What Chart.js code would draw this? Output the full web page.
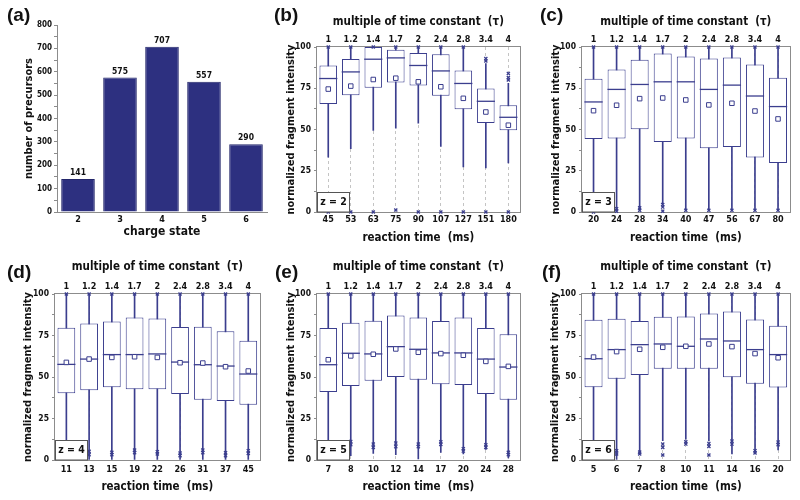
<!DOCTYPE html>
<html>
<head>
<meta charset="utf-8">
<script src="https://cdn.jsdelivr.net/npm/chart.js@4.4.1/dist/chart.umd.min.js"></script>
<style>
  html, body { margin: 0; padding: 0; background: #fff; }
  #fig { position: relative; width: 800px; height: 500px; overflow: hidden; background: #fff; }
  #fig canvas { position: absolute; }
  .tag { position: absolute; font: bold 19px 'Liberation Sans', Arial, sans-serif; color: #111; line-height: 22px; }
</style>
</head>
<body>
<div id="fig">
  <canvas id="cA" width="270" height="242" style="left:0px;top:0px"></canvas>
  <canvas id="cB" width="268" height="250" style="left:262px;top:0px"></canvas>
  <canvas id="cC" width="270" height="250" style="left:530px;top:0px"></canvas>
  <canvas id="cD" width="270" height="255" style="left:0px;top:245px"></canvas>
  <canvas id="cE" width="268" height="255" style="left:262px;top:245px"></canvas>
  <canvas id="cF" width="270" height="255" style="left:530px;top:245px"></canvas>
  <div class="tag" style="left:7px;top:4px">(a)</div>
  <div class="tag" style="left:274px;top:4px">(b)</div>
  <div class="tag" style="left:540px;top:4px">(c)</div>
  <div class="tag" style="left:7px;top:261px">(d)</div>
  <div class="tag" style="left:275px;top:261px">(e)</div>
  <div class="tag" style="left:542px;top:261px">(f)</div>
</div>
<script>
// panel (a): precursors per charge state
const CHARGE = ["2", "3", "4", "5", "6"];
const PRECURSORS = [141, 575, 707, 557, 290];

// top axis shared by the box panels
const TAU = ["1", "1.2", "1.4", "1.7", "2", "2.4", "2.8", "3.4", "4"];

// panel (b), z = 2
const B_TIME = ["45", "53", "63", "75", "90", "107", "127", "151", "180"];
const B_LO = [33.3, 38.4, 49.4, 50.8, 53.8, 39.8, 27.3, 26.7, 29.7];
const B_Q1 = [65.5, 70.7, 75.3, 78.5, 76.7, 70.5, 62.2, 54.0, 49.6];
const B_MED = [80.9, 84.9, 92.6, 93.4, 88.8, 85.5, 77.9, 67.1, 57.4];
const B_Q3 = [88.8, 92.8, 100, 98.4, 96.4, 95.6, 85.7, 74.9, 64.7];
const B_HI = [100, 100, 100, 100, 100, 100, 100, 90, 78];
const B_MEAN = [74.5, 76.3, 80.3, 81.1, 78.9, 75.9, 68.9, 60.6, 52.6];
const B_OUT = [[0, 100], [0, 100], [0, 100], [1.2, 100], [0, 100], [0, 100], [0, 100], [0, 91.5, 93], [0, 80, 81.5, 84]];

// panel (c), z = 3
const C_TIME = ["20", "24", "28", "34", "40", "47", "56", "67", "80"];
const C_LO = [0, 1, 1, 5, 1, 1, 1, 1, 1];
const C_Q1 = [44.2, 44.6, 50.2, 42.4, 44.6, 38.6, 39.4, 33.1, 29.7];
const C_MED = [66.7, 74.3, 77.3, 78.9, 78.9, 74.3, 76.9, 70.3, 63.9];
const C_Q3 = [80.7, 86.3, 92.2, 96.0, 94.2, 93.0, 93.6, 89.4, 81.3];
const C_HI = [100, 100, 100, 100, 100, 100, 100, 100, 100];
const C_MEAN = [61.4, 64.7, 68.7, 69.1, 67.9, 64.9, 65.9, 61.2, 56.4];
const C_OUT = [[100, 0], [100, 2, 0.5], [100, 2.5, 1], [100, 4.5, 3, 0.5], [100, 1], [100, 1], [100, 1], [100, 1], [100, 1]];

// panel (d), z = 4
const D_TIME = ["11", "13", "15", "19", "22", "26", "31", "37", "45"];
const D_LO = [0, 0, 0, 0, 0, 0, 0, 0, 0];
const D_Q1 = [40.2, 42.0, 43.8, 42.6, 42.6, 39.8, 36.3, 35.5, 33.3];
const D_MED = [57.6, 60.8, 63.5, 63.5, 63.9, 59.0, 57.4, 56.6, 51.8];
const D_Q3 = [79.7, 82.3, 83.5, 85.9, 85.3, 80.1, 80.3, 77.5, 71.9];
const D_HI = [100, 100, 100, 100, 100, 100, 100, 100, 100];
const D_MEAN = [58.8, 60.8, 61.8, 62.2, 61.8, 58.6, 58.4, 56.2, 53.6];
const D_OUT = [[100], [100, 5.2, 3.2], [100, 4.6, 3.2], [100, 6, 4.4], [100, 5, 3.6], [100, 4.2, 2.6], [100, 6, 4.4], [100, 4.4, 2.6], [100, 5.6, 4]];

// panel (e), z = 5
const E_TIME = ["7", "8", "10", "12", "14", "17", "20", "24", "28"];
const E_LO = [0, 2.6, 4, 3.2, 0.6, 4.6, 3.6, 6.4, 1.2];
const E_Q1 = [41.0, 44.6, 47.8, 50.0, 48.4, 45.6, 45.2, 39.8, 36.3];
const E_MED = [57.4, 64.3, 63.9, 68.3, 66.7, 64.5, 64.5, 60.8, 56.0];
const E_Q3 = [79.5, 82.7, 83.9, 87.1, 85.9, 83.7, 85.9, 79.5, 75.7];
const E_HI = [100, 100, 100, 100, 100, 100, 100, 100, 100];
const E_MEAN = [60.4, 62.7, 63.7, 66.9, 64.9, 64.1, 63.1, 59.4, 56.4];
const E_OUT = [[100], [100, 11.2, 9.2], [100, 9.6, 7.6], [100, 10.2, 8], [100, 9.6, 8], [100, 11, 9.4], [100, 6.8, 5.4], [100, 9.2, 7.6], [100, 4.6, 3.2]];

// panel (f), z = 6
const F_TIME = ["5", "6", "7", "8", "10", "11", "14", "16", "20"];
const F_LO = [0, 0, 3.6, 11.6, 12.6, 11.5, 3.6, 4.2, 6];
const F_Q1 = [43.8, 49.0, 51.2, 55.0, 55.0, 55.0, 49.8, 46.0, 43.6];
const F_MED = [61.0, 66.5, 69.5, 69.9, 68.5, 72.9, 71.7, 66.5, 63.5];
const F_Q3 = [84.5, 85.1, 83.7, 86.3, 86.5, 88.2, 89.4, 84.7, 80.9];
const F_HI = [100, 100, 100, 100, 100, 100, 100, 100, 100];
const F_MEAN = [62.0, 65.3, 66.7, 67.9, 68.5, 69.9, 68.3, 64.1, 61.6];
const F_OUT = [[100], [100, 5.6, 3.6], [100, 4.8, 3.6], [100, 9.6, 7.6, 3], [100, 11, 9.6], [100, 10, 8.2, 3], [100, 11.4, 9.6], [100, 5.6, 4.2], [100, 10.8, 9.2]];

const FONT = "'Liberation Sans Narrow', 'DejaVu Sans Condensed', 'Arial Narrow', sans-serif";
const NAVY = "#3b3e8e";
const BAR = "#2d3080";
const FRAME = "#8c8c8c";

Chart.defaults.font.family = FONT;
Chart.defaults.font.weight = "bold";
Chart.defaults.color = "#111";

const common = {
  responsive: false,
  animation: false,
  devicePixelRatio: 1,
  events: [],
};

// ---- (a) bar chart ----
(function () {
  const g = { left: 0, top: 0, w: 270, h: 242, L: 57, T: 25, R: 267, B: 212 };
  const barValues = {
    id: "barValues",
    afterDatasetsDraw(chart) {
      const ctx = chart.ctx;
      ctx.save();
      ctx.font = `bold 8.5px ${FONT}`;
      ctx.fillStyle = "#111";
      ctx.textAlign = "center";
      ctx.textBaseline = "bottom";
      chart.getDatasetMeta(0).data.forEach((bar, i) => ctx.fillText(PRECURSORS[i], bar.x, bar.y - 2));
      ctx.restore();
    },
  };
  new Chart(document.getElementById("cA"), {
    type: "bar",
    data: {
      labels: CHARGE,
      datasets: [{ data: PRECURSORS, backgroundColor: BAR, borderColor: "#23266a", borderWidth: 1, barPercentage: 0.8, categoryPercentage: 1 }],
    },
    options: {
      ...common,
      layout: { padding: { left: 0, top: g.T - g.top, right: g.left + g.w - g.R, bottom: 0 } },
      plugins: { legend: { display: false }, tooltip: { enabled: false } },
      scales: {
        x: {
          afterFit: (s) => { s.height = g.top + g.h - g.B; },
          grid: { display: false, drawTicks: false },
          border: { display: true, color: FRAME },
          ticks: { padding: 2, font: { size: 9, weight: "bold" } },
          title: { display: true, text: "charge state", font: { size: 12, weight: "bold" }, padding: { top: 0, bottom: 3 } },
        },
        y: {
          min: 0, max: 800,
          afterFit: (s) => { s.width = g.L - g.left; },
          ticks: { stepSize: 50, autoSkip: false, padding: 2, font: { size: 8, weight: "bold" }, callback: (v) => (v % 100 === 0 ? v : "") },
          grid: { display: true, drawOnChartArea: false, tickLength: 3, color: FRAME },
          border: { display: true, color: FRAME },
          title: { display: true, text: "number of precursors", font: { size: 11, weight: "bold" }, padding: { top: 23, bottom: 0 } },
        },
      },
    },
    plugins: [barValues],
  });
})();

// ---- box panels ----
function boxChart(id, g, d) {
  const catW = (g.R - g.L) / d.time.length;
  const outPts = [];
  d.out.forEach((vals, i) => vals.forEach((v) => outPts.push({ x: d.time[i], y: v })));

  const decor = {
    id: "decor",
    beforeDatasetsDraw(chart) {
      const a = chart.chartArea, ctx = chart.ctx;
      ctx.save();
      ctx.strokeStyle = FRAME;
      ctx.lineWidth = 1;
      ctx.strokeRect(Math.round(a.left) - 0.5, Math.round(a.top) - 0.5, Math.round(a.right - a.left) + 1, Math.round(a.bottom - a.top) + 1);
      ctx.restore();
    },
    afterDatasetsDraw(chart) {
      const a = chart.chartArea, ctx = chart.ctx;
      const x0 = Math.round(a.left), y1 = Math.round(a.bottom);
      ctx.save();
      ctx.fillStyle = "#fff";
      ctx.fillRect(x0, y1 - 20, 33, 20);
      ctx.strokeStyle = "#555";
      ctx.lineWidth = 1;
      ctx.strokeRect(x0 + 0.5, y1 - 19.5, 32, 19.5);
      ctx.font = `bold 10.5px ${FONT}`;
      ctx.fillStyle = "#111";
      ctx.textAlign = "center";
      ctx.textBaseline = "middle";
      ctx.fillText(d.z, x0 + 16.5, y1 - 9.5);
      ctx.restore();
    },
  };

  return new Chart(document.getElementById(id), {
    type: "bar",
    data: {
      labels: d.time,
      datasets: [
        { type: "line", xAxisID: "x", data: outPts, showLine: false, pointStyle: "crossRot", pointRadius: 2.2, pointBorderWidth: 1.3, borderColor: NAVY, backgroundColor: NAVY, clip: false, order: 0 },
        { type: "line", xAxisID: "x", data: d.mean, showLine: false, pointStyle: "rect", pointRadius: 3.2, pointBorderWidth: 1, borderColor: NAVY, pointBorderColor: NAVY, pointBackgroundColor: "#fff", clip: false, order: 1 },
        { type: "line", xAxisID: "x", data: d.med, showLine: false, pointStyle: "line", pointRadius: (catW * 0.78) / 2, pointBorderWidth: 1.3, borderColor: NAVY, pointBorderColor: NAVY, clip: false, order: 2 },
        { xAxisID: "x", data: d.q1.map((v, i) => [v, d.q3[i]]), backgroundColor: "#fff", borderColor: NAVY, borderWidth: 1, borderSkipped: false, barPercentage: 0.78, categoryPercentage: 1, grouped: false, order: 3 },
        { xAxisID: "x", data: d.lo.map((v, i) => [v, d.hi[i]]), backgroundColor: NAVY, borderWidth: 0, barThickness: 1, grouped: false, order: 4 },
      ],
    },
    options: {
      ...common,
      layout: { padding: { left: 0, top: 0, right: g.left + g.w - g.R, bottom: 0 } },
      plugins: { legend: { display: false }, tooltip: { enabled: false } },
      scales: {
        x: {
          afterFit: (s) => { s.height = g.top + g.h - g.B; },
          offset: true,
          grid: { display: true, drawOnChartArea: true, drawTicks: false, offset: false, color: "#c4c4c4" },
          border: { display: false, dash: [3, 3] },
          ticks: { padding: g.tickPad, autoSkip: false, maxRotation: 0, font: { size: 9, weight: "bold" } },
          title: { display: true, text: "reaction time  (ms)", font: { size: 11.5, weight: "bold" }, padding: { top: 0, bottom: g.h - (g.xTitle - g.top) - 6.9 } },
        },
        x2: {
          axis: "x",
          type: "category",
          labels: TAU,
          position: "top",
          offset: true,
          afterFit: (s) => { s.height = g.T - g.top; },
          grid: { display: false, drawTicks: false },
          border: { display: false },
          ticks: { padding: 2, autoSkip: false, maxRotation: 0, font: { size: 9, weight: "bold" } },
          title: { display: true, text: "multiple of time constant  (τ)", font: { size: 11.5, weight: "bold" }, padding: { top: g.topTitle - g.top - 6.9, bottom: 0 } },
        },
        y: {
          min: 0, max: 100,
          afterFit: (s) => { s.width = g.L - g.left; },
          ticks: { stepSize: 12.5, autoSkip: false, padding: 3, font: { size: 8.5, weight: "bold" }, callback: (v) => (v % 25 === 0 ? v : "") },
          grid: { display: true, drawOnChartArea: false, tickLength: 3, color: FRAME },
          border: { display: false },
          title: { display: true, text: "normalized fragment intensity", font: { size: 11, weight: "bold" }, padding: { top: g.yTitle - g.left - 6.6, bottom: 0 } },
        },
      },
    },
    plugins: [decor],
  });
}

boxChart("cB", { left: 262, top: 0, w: 268, h: 250, L: 317, T: 47, R: 527, B: 212, yTitle: 291, xTitle: 238, topTitle: 22, tickPad: 2 },
  { time: B_TIME, lo: B_LO, q1: B_Q1, med: B_MED, q3: B_Q3, hi: B_HI, mean: B_MEAN, out: B_OUT, z: "z = 2" });
boxChart("cC", { left: 530, top: 0, w: 270, h: 250, L: 582, T: 47, R: 793, B: 212, yTitle: 556, xTitle: 238, topTitle: 22, tickPad: 2 },
  { time: C_TIME, lo: C_LO, q1: C_Q1, med: C_MED, q3: C_Q3, hi: C_HI, mean: C_MEAN, out: C_OUT, z: "z = 3" });
boxChart("cD", { left: 0, top: 245, w: 270, h: 255, L: 55, T: 294, R: 264, B: 460, yTitle: 28, xTitle: 487, topTitle: 267, tickPad: 4 },
  { time: D_TIME, lo: D_LO, q1: D_Q1, med: D_MED, q3: D_Q3, hi: D_HI, mean: D_MEAN, out: D_OUT, z: "z = 4" });
boxChart("cE", { left: 262, top: 245, w: 268, h: 255, L: 317, T: 294, R: 527, B: 460, yTitle: 291, xTitle: 487, topTitle: 267, tickPad: 4 },
  { time: E_TIME, lo: E_LO, q1: E_Q1, med: E_MED, q3: E_Q3, hi: E_HI, mean: E_MEAN, out: E_OUT, z: "z = 5" });
boxChart("cF", { left: 530, top: 245, w: 270, h: 255, L: 582, T: 294, R: 791, B: 460, yTitle: 555, xTitle: 487, topTitle: 267, tickPad: 4 },
  { time: F_TIME, lo: F_LO, q1: F_Q1, med: F_MED, q3: F_Q3, hi: F_HI, mean: F_MEAN, out: F_OUT, z: "z = 6" });
</script>
</body>
</html>
